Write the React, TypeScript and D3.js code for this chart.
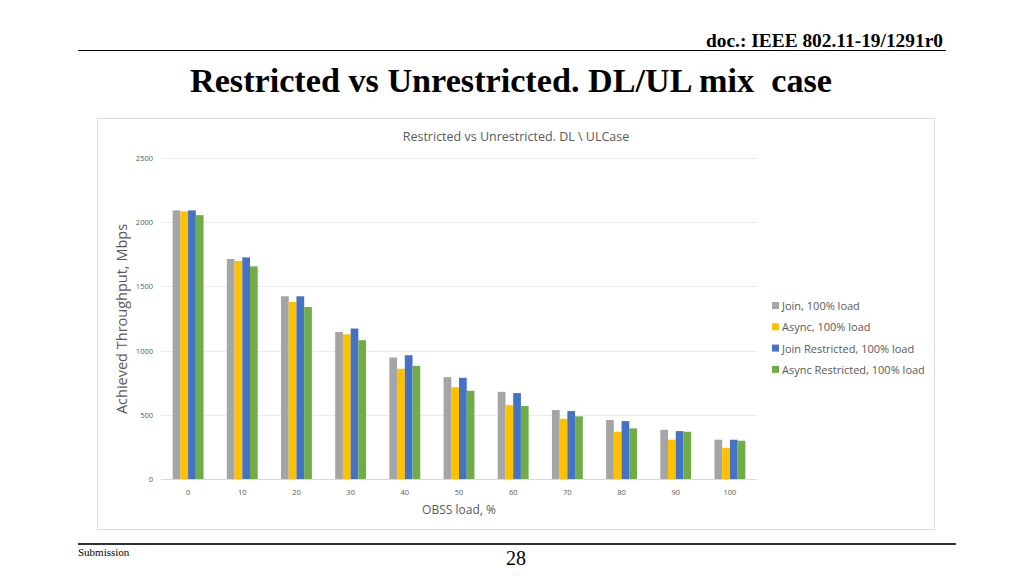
import React from "react";
import * as d3 from "d3";

const categories = ["0", "10", "20", "30", "40", "50", "60", "70", "80", "90", "100"];
const seriesNames = [
  "Join, 100% load",
  "Async, 100% load",
  "Join Restricted, 100% load",
  "Async Restricted, 100% load",
];
const joinValues = [2092, 1713, 1423, 1145, 946, 793, 679, 537, 459, 383, 306];
const asyncValues = [2084, 1698, 1379, 1127, 858, 715, 575, 469, 368, 306, 243];
const joinRestrictedValues = [2092, 1726, 1423, 1172, 964, 788, 669, 529, 451, 373, 306];
const asyncRestrictedValues = [2055, 1656, 1340, 1081, 881, 687, 568, 488, 394, 368, 298];
const yTicks = [0, 500, 1000, 1500, 2000, 2500];
const colors = ["#A5A5A5", "#FFC000", "#4472C4", "#70AD47"];

export default function App() {
  const W = 1024, H = 576;
  const series = [joinValues, asyncValues, joinRestrictedValues, asyncRestrictedValues];
  const x = d3.scaleBand<string>().domain(categories).range([161, 757]).paddingInner(0.43).paddingOuter(0.215);
  const xInner = d3.scaleBand<number>().domain([0, 1, 2, 3]).range([0, x.bandwidth()]);
  const y = d3.scaleLinear().domain([0, 2500]).range([479, 158]);
  const font = "'Open Sans', 'Noto Sans', sans-serif";
  return (
    <svg width={W} height={H} style={{ position: "absolute", left: 0, top: 0, background: "#fff" }}>
      {/* slide header */}
      <text x={706} y={47} textLength={237} lengthAdjust="spacingAndGlyphs" fontFamily="'Liberation Serif', serif" fontWeight="bold" fontSize={18} fill="#000">
        doc.: IEEE 802.11-19/1291r0
      </text>
      <line x1={78} x2={946} y1={50.5} y2={50.5} stroke="#000" strokeWidth={1} />
      <text x={190} y={92} textLength={642} lengthAdjust="spacingAndGlyphs" style={{ whiteSpace: "pre" }} fontFamily="'Liberation Serif', serif" fontWeight="bold" fontSize={34} fill="#000">
        {"Restricted vs Unrestricted. DL/UL mix  case"}
      </text>
      {/* footer */}
      <line x1={78} x2={956} y1={544} y2={544} stroke="#333" strokeWidth={2} />
      <text x={78} y={556} fontFamily="'Liberation Serif', serif" fontSize={11} fill="#000">Submission</text>
      <text x={516} y={565} textAnchor="middle" fontFamily="'Liberation Serif', serif" fontSize={20} fill="#000">28</text>

      {/* chart frame */}
      <rect x={97.5} y={118.5} width={837} height={411} fill="#fff" stroke="#d9d9d9" strokeWidth={1} />
      <text x={516} y={141} textAnchor="middle" fontFamily={font} fontSize={12.5} fill="#595959">
        Restricted vs Unrestricted. DL \ ULCase
      </text>
      {/* gridlines */}
      {yTicks.map((t) => (
        <g key={t}>
          <line x1={161} x2={757} y1={Math.round(y(t)) + 0.5} y2={Math.round(y(t)) + 0.5} stroke={t === 0 ? "#d9d9d9" : "#ececec"} strokeWidth={1} />
          <text x={153} y={y(t) + 3} textAnchor="end" fontFamily={font} fontSize={7.5} fill="#595959">{t}</text>
        </g>
      ))}
      {/* bars */}
      {series.map((vals, si) => (
        <g key={si} fill={colors[si]}>
          {vals.map((v, ci) => (
            <rect key={ci} x={(x(categories[ci]) as number) + (xInner(si) as number)} y={y(v)} width={xInner.bandwidth()} height={y(0) - y(v)} />
          ))}
        </g>
      ))}
      {/* x tick labels */}
      {categories.map((c) => (
        <text key={c} x={(x(c) as number) + x.bandwidth() / 2} y={495} textAnchor="middle" fontFamily={font} fontSize={7.5} fill="#595959">{c}</text>
      ))}
      <text x={459} y={514} textAnchor="middle" fontFamily={font} fontSize={12} fill="#595959">OBSS load, %</text>
      <text transform={`translate(127,319) rotate(-90)`} textAnchor="middle" fontFamily={font} fontSize={14.5} fill="#595959">
        Achieved Throughput, Mbps
      </text>
      {/* legend */}
      {seriesNames.map((n, i) => (
        <g key={n} transform={`translate(772,${306 + i * 21.3})`}>
          <rect x={0} y={-4} width={7} height={7} fill={colors[i]} />
          <text x={10} y={4} fontFamily={font} fontSize={11} fill="#595959">{n}</text>
        </g>
      ))}
    </svg>
  );
}
